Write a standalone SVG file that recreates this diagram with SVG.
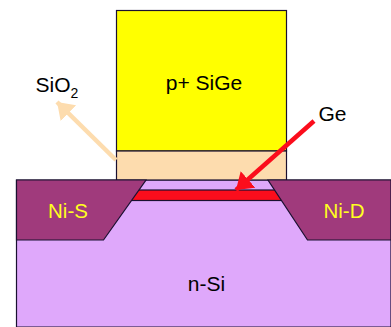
<svg xmlns="http://www.w3.org/2000/svg" width="391" height="327" viewBox="0 0 391 327">
<style>
.s{stroke:#1a1030;stroke-width:1.2}
text{font-family:"Liberation Sans",Arial,sans-serif;font-size:21px;fill:#000;text-anchor:middle}
.y{fill:#ffff20;font-size:20.500px}
</style>
<defs>
<marker id="r" markerUnits="userSpaceOnUse" markerWidth="18" markerHeight="24" refX="16" refY="11" orient="auto"><path d="M0 0L16 11L0 22Z" fill="#fb0d1c"/></marker>
<marker id="o" markerUnits="userSpaceOnUse" markerWidth="18" markerHeight="24" refX="16" refY="11" orient="auto"><path d="M0 0L16 11L0 22Z" fill="#fddcae"/></marker>
</defs>
<rect width="391" height="327" fill="#fff"/>
<g id="n-si"><path class="s" d="M16.500 180H391V327H16.500Z" fill="#dfa8fb"/><text x="206.500" y="291">n-Si</text></g>
<g id="sige"><rect class="s" x="116.500" y="10.500" width="170" height="140.500" fill="#ffff00"/><text x="204" y="90">p+ SiGe</text></g>
<g id="sio2"><rect class="s" x="116.500" y="151" width="170" height="29" fill="#fddcae"/></g>
<g id="ge"><rect class="s" x="130" y="190" width="152" height="10.500" fill="#fb0d1c"/></g>
<g id="ni-s"><path class="s" d="M16.500 180H146L103.500 240H16.500Z" fill="#a03a7c"/><text class="y" x="68" y="218">Ni-S</text></g>
<g id="ni-d"><path class="s" d="M268 180H391V240H307.500Z" fill="#a03a7c"/><text class="y" x="344" y="218">Ni-D</text></g>
<g id="connectors">
<path d="M116 160L57 102" fill="none" stroke="#fddcae" stroke-width="4.500" marker-end="url(#o)"/>
<path d="M314 121L236 190" fill="none" stroke="#fb0d1c" stroke-width="4.500" marker-end="url(#r)"/>
</g>
<g id="labels"><text x="57" y="92">SiO<tspan font-size="14" dy="6">2</tspan></text><text x="332.500" y="121">Ge</text></g>
</svg>
